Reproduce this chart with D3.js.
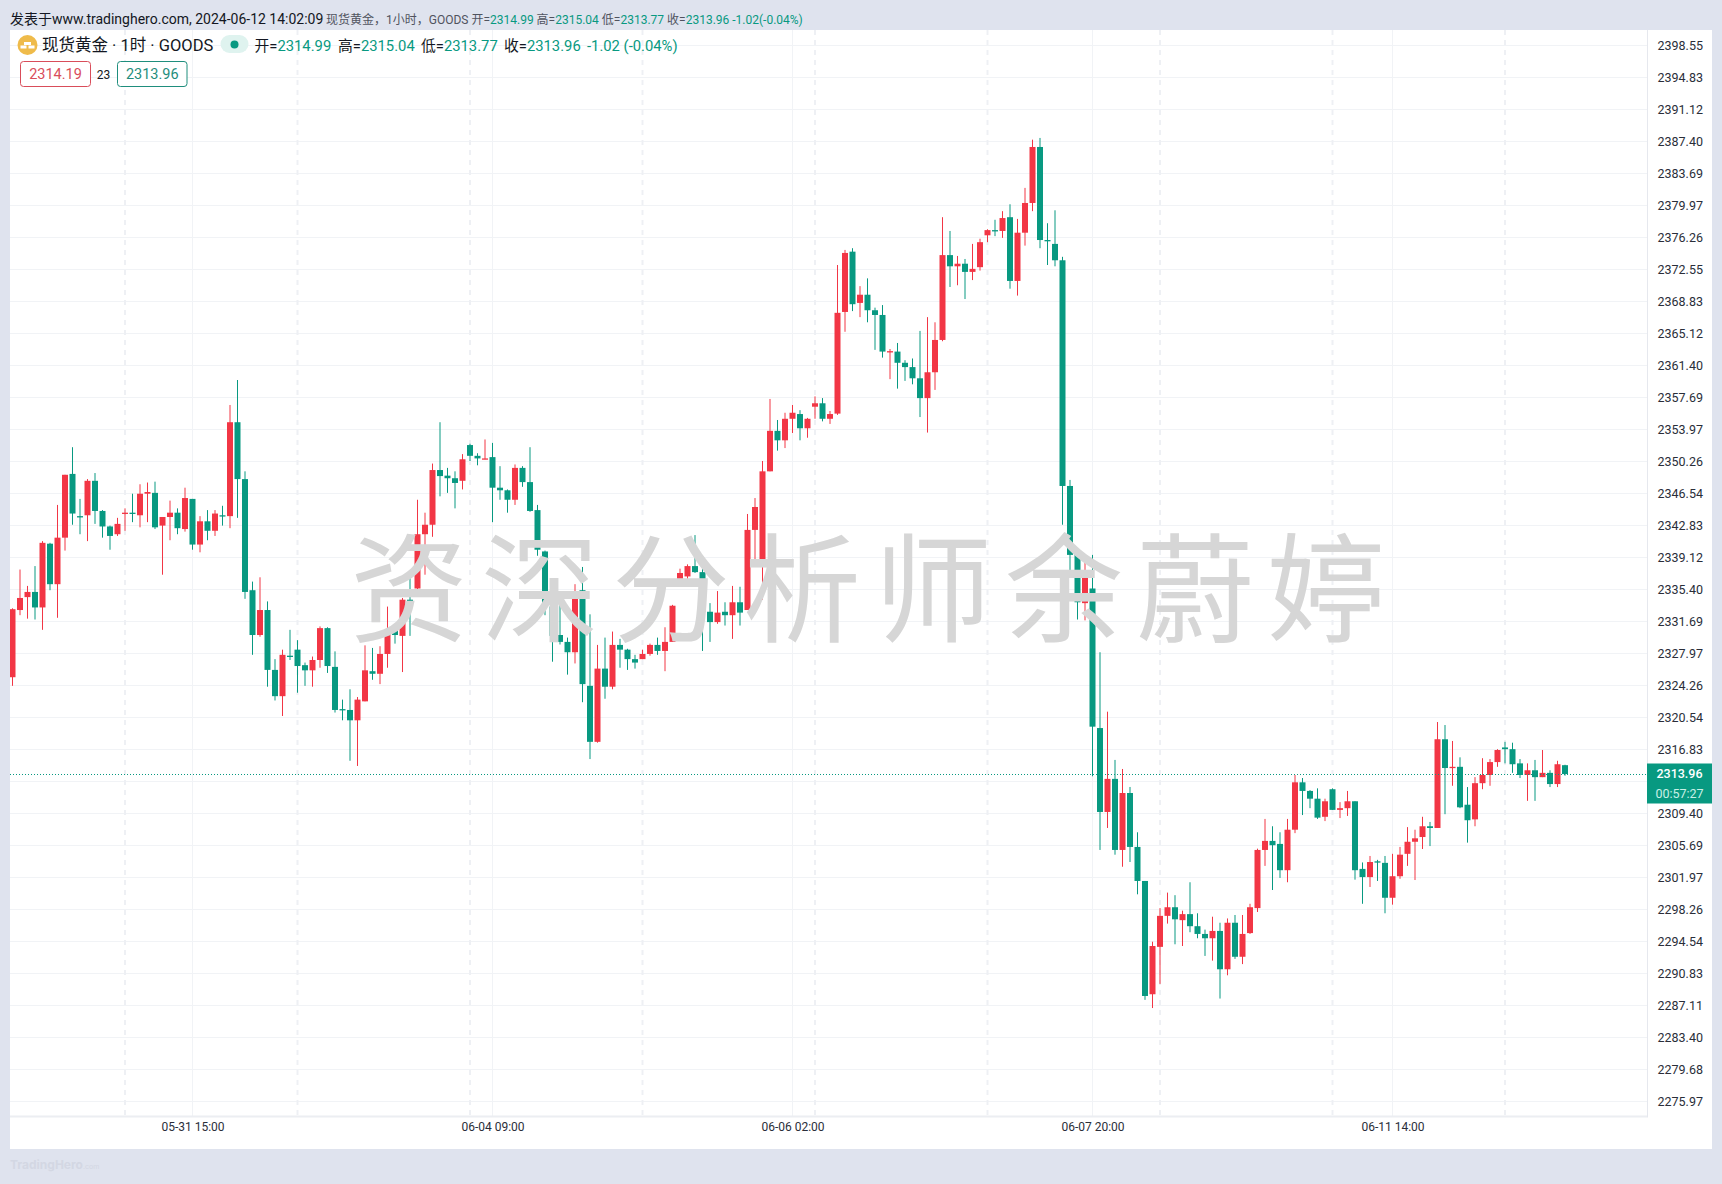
<!DOCTYPE html>
<html><head><meta charset="utf-8">
<script src="https://cdn.jsdelivr.net/npm/d3@7/dist/d3.min.js"></script>
<style>html,body{margin:0;padding:0;background:#dfe3ee;overflow:hidden}svg{display:block}text{font-family:Roboto,"Noto Sans CJK SC",sans-serif}</style>
</head><body><div id="chart"></div>
<script>
const opens=[2325.2,2333.0,2334.5,2335.1,2333.3,2340.7,2336.0,2341.4,2348.8,2343.9,
2344.0,2348.0,2344.5,2342.7,2341.8,2344.2,2344.3,2344.0,2346.5,2346.6,
2342.8,2343.8,2344.3,2342.4,2345.9,2340.6,2343.3,2342.2,2344.0,2343.9,
2354.8,2348.2,2335.3,2330.1,2333.0,2326.05,2323.0,2327.7,2328.4,2326.6,
2326.0,2327.2,2330.9,2326.4,2321.5,2321.4,2320.2,2322.4,2325.9,2325.6,
2327.9,2330.8,2330.0,2334.2,2335.5,2341.8,2342.9,2349.25,2348.6,2348.3,
2348.0,2352.15,2350.9,2350.5,2350.75,2347.2,2346.9,2345.8,2349.5,2347.85,
2344.6,2339.8,2333.4,2330.1,2329.3,2328.1,2335.3,2324.2,2317.7,2326.2,
2324.1,2328.95,2328.4,2327.3,2327.3,2327.9,2328.95,2328.25,2329.3,2335.9,
2336.9,2338.1,2337.4,2332.8,2331.6,2332.8,2332.4,2333.9,2333.0,2342.3,
2338.7,2349.1,2353.8,2352.7,2355.2,2355.75,2354.1,2356.6,2357.0,2355.2,
2355.8,2367.6,2374.6,2368.65,2369.6,2367.8,2367.25,2362.9,2363.0,2361.7,
2361.2,2359.9,2357.6,2360.6,2364.35,2374.2,2372.9,2373.2,2372.25,2372.8,
2376.5,2377.1,2377.0,2378.6,2371.2,2376.8,2380.25,2386.75,2375.95,2375.5,
2373.6,2347.4,2339.4,2333.8,2335.5,2319.3,2309.56,2313.4,2305.15,2311.76,
2305.5,2301.55,2288.4,2293.9,2297.5,2298.5,2297.0,2297.7,2296.3,2295.4,
2294.9,2295.75,2291.3,2296.7,2292.75,2295.5,2298.4,2305.15,2306.2,2305.85,
2302.8,2307.5,2313.0,2312.0,2311.1,2309.0,2312.2,2309.8,2310.0,2310.8,
2302.95,2302.0,2303.83,2303.65,2299.6,2302.1,2304.7,2306.1,2306.65,2307.9,
2307.7,2318.0,2314.66,2314.8,2310.4,2308.7,2312.9,2313.85,2315.35,2317.05,
2316.85,2315.2,2313.85,2314.4,2313.6,2314.1,2312.8,2314.99];
const highs=[2333.2,2337.7,2335.8,2338.1,2341.0,2340.8,2345.2,2348.7,2351.9,2345.9,
2348.2,2348.9,2344.6,2342.8,2343.7,2344.8,2346.5,2347.6,2347.8,2347.9,
2343.8,2345.7,2344.8,2347.2,2345.9,2343.9,2344.6,2344.6,2345.1,2356.8,
2359.7,2349.1,2336.3,2336.8,2334.0,2327.3,2328.4,2330.7,2329.5,2326.9,
2327.6,2331.1,2331.0,2328.2,2322.6,2323.8,2322.9,2328.9,2328.6,2328.8,
2333.4,2331.3,2334.4,2336.8,2345.8,2344.3,2350.0,2354.8,2349.5,2349.1,
2351.1,2352.3,2351.2,2352.8,2352.4,2349.7,2347.0,2349.9,2349.7,2351.9,
2345.2,2339.9,2334.3,2335.0,2329.8,2336.0,2338.0,2332.5,2328.95,2329.8,
2330.5,2329.65,2328.5,2327.8,2328.4,2329.1,2329.8,2331.0,2333.6,2337.8,
2338.3,2341.7,2338.6,2333.8,2335.2,2333.9,2335.8,2335.7,2344.15,2346.0,
2350.3,2357.5,2355.06,2355.9,2356.8,2356.2,2355.3,2357.8,2357.6,2356.1,
2373.05,2374.8,2375.0,2370.6,2371.5,2368.1,2368.4,2363.3,2364.0,2362.0,
2362.2,2365.4,2367.0,2366.4,2378.6,2377.0,2374.1,2373.75,2375.5,2376.1,
2377.2,2378.3,2379.3,2380.1,2378.4,2382.0,2387.6,2387.8,2377.9,2379.4,
2374.0,2348.1,2339.4,2339.4,2339.4,2328.1,2321.2,2315.6,2314.55,2312.46,
2307.2,2301.55,2294.5,2298.4,2300.2,2299.9,2298.1,2301.4,2297.8,2295.9,
2297.4,2296.7,2297.2,2297.6,2297.6,2298.9,2305.3,2308.75,2307.9,2307.2,
2308.75,2313.85,2313.5,2312.1,2312.3,2311.1,2312.3,2310.7,2312.0,2310.8,
2303.7,2304.45,2304.0,2304.45,2304.7,2305.5,2307.8,2307.5,2309.0,2308.4,
2320.0,2319.65,2317.8,2315.9,2312.45,2313.6,2315.8,2315.7,2316.85,2317.7,
2317.6,2315.7,2315.2,2315.6,2316.75,2314.4,2315.5,2315.04];
const lows=[2324.2,2332.4,2332.0,2331.9,2330.7,2335.3,2332.1,2339.9,2342.9,2341.8,
2341.0,2343.0,2341.4,2340.0,2341.6,2342.2,2343.2,2342.6,2343.2,2342.4,
2337.1,2341.1,2341.8,2342.1,2340.0,2339.7,2341.1,2341.6,2342.8,2342.5,
2343.7,2334.3,2327.8,2329.9,2324.1,2322.5,2320.7,2327.2,2323.4,2324.2,
2324.1,2326.3,2325.7,2321.1,2320.2,2315.5,2314.9,2322.4,2324.9,2324.4,
2326.3,2329.1,2325.8,2330.0,2335.3,2337.1,2341.5,2346.2,2346.6,2344.8,
2347.0,2350.3,2349.8,2350.5,2343.2,2345.8,2344.3,2345.2,2347.3,2344.4,
2339.3,2332.4,2327.0,2329.0,2325.5,2326.8,2322.3,2315.7,2317.6,2322.7,
2323.8,2326.3,2326.05,2326.2,2327.3,2327.7,2327.8,2325.9,2329.3,2335.8,
2335.9,2337.3,2328.25,2329.3,2331.4,2331.2,2329.65,2331.2,2333.0,2338.2,
2334.2,2349.1,2351.5,2351.8,2353.55,2352.7,2353.0,2355.2,2354.9,2354.6,
2355.65,2365.3,2367.7,2367.0,2366.4,2363.2,2362.3,2359.8,2358.7,2359.6,
2359.2,2355.4,2353.6,2358.55,2364.2,2370.5,2370.7,2369.1,2371.3,2372.4,
2375.7,2376.4,2376.2,2370.3,2369.5,2375.3,2379.3,2375.0,2373.05,2372.9,
2342.9,2337.5,2331.9,2331.8,2313.7,2305.15,2307.7,2304.6,2303.2,2303.75,
2300.0,2287.75,2286.8,2289.6,2296.6,2294.2,2294.0,2295.6,2294.9,2292.85,
2292.3,2287.9,2290.6,2292.5,2291.9,2295.4,2297.95,2303.3,2300.5,2301.9,
2301.4,2307.1,2309.2,2310.0,2308.75,2308.5,2309.8,2308.85,2309.1,2301.7,
2298.9,2300.85,2301.55,2297.8,2298.8,2301.8,2303.3,2301.66,2305.26,2305.6,
2307.7,2309.3,2312.6,2310.0,2306.0,2307.9,2312.2,2312.6,2314.8,2315.2,
2314.1,2313.5,2310.85,2310.85,2313.6,2312.45,2312.45,2313.77];
const closes=[2333.1,2334.4,2335.1,2333.3,2340.8,2336.0,2341.4,2348.7,2344.2,2343.8,
2348.0,2344.5,2342.7,2341.6,2343.0,2344.3,2344.2,2346.5,2346.7,2342.6,
2343.8,2344.3,2342.5,2346.0,2340.6,2343.3,2342.2,2344.2,2343.9,2354.8,
2348.2,2335.1,2330.1,2333.0,2326.05,2323.0,2327.8,2327.6,2326.5,2326.0,
2327.2,2330.9,2326.5,2321.4,2321.4,2320.2,2322.6,2326.0,2325.6,2327.9,
2330.7,2330.1,2334.2,2333.6,2341.8,2342.9,2349.25,2348.55,2348.3,2347.75,
2350.5,2350.9,2350.6,2350.6,2347.2,2346.9,2345.8,2349.5,2347.85,2344.5,
2340.0,2333.5,2330.0,2329.3,2328.1,2335.1,2324.4,2317.7,2326.2,2324.1,
2328.95,2328.4,2327.3,2326.9,2327.9,2328.95,2328.25,2329.3,2333.5,2337.3,
2338.1,2337.4,2332.8,2331.6,2332.7,2332.4,2333.9,2332.7,2342.3,2344.96,
2349.1,2353.8,2352.7,2355.2,2355.9,2354.1,2355.2,2357.0,2355.2,2355.75,
2367.5,2374.45,2368.5,2369.6,2367.8,2367.25,2363.0,2363.05,2361.7,2361.2,
2359.9,2357.6,2360.6,2364.35,2374.2,2372.9,2373.2,2372.25,2372.6,2375.7,
2377.1,2377.0,2378.5,2371.2,2376.8,2380.25,2386.75,2375.95,2375.8,2373.6,
2347.4,2339.4,2333.9,2336.9,2319.46,2309.56,2313.4,2305.15,2311.76,2305.5,
2301.55,2288.2,2294.0,2297.5,2298.5,2297.1,2297.7,2296.3,2295.4,2294.9,
2295.75,2291.3,2296.7,2292.75,2295.4,2298.5,2305.15,2306.2,2305.7,2302.8,
2307.5,2313.0,2312.0,2311.1,2308.9,2310.8,2309.8,2310.0,2310.8,2302.8,
2302.0,2303.75,2303.7,2299.6,2302.1,2304.6,2306.1,2306.5,2307.9,2307.7,
2318.0,2314.66,2314.8,2310.1,2308.6,2312.9,2313.85,2315.35,2316.75,2316.85,
2315.1,2313.85,2314.4,2313.6,2314.1,2312.8,2315.1,2313.96];
const priceTicks=[2398.55,2394.83,2391.12,2387.40,2383.69,2379.97,2376.26,2372.55,2368.83,2365.12,2361.40,2357.69,2353.97,2350.26,2346.54,2342.83,2339.12,2335.40,2331.69,2327.97,2324.26,2320.54,2316.83,2313.11,2309.40,2305.69,2301.97,2298.26,2294.54,2290.83,2287.11,2283.40,2279.68,2275.97];
const hiddenPriceTick=2313.11;
const timeTickIndex=[24,64,104,144,184];
const timeTickLabels=["05-31 15:00","06-04 09:00","06-06 02:00","06-07 20:00","06-11 14:00"];
const dashedLineIndex=[15,38,61,84,107,130,153,176,199];
const lastPrice=2313.96, countdown="00:57:27";
const watermarkChars=["资","深","分","析","师","余","蔚","婷"];
const line1Grey=[["现货黄金，1小时，GOODS 开=",0],["2314.99",1],[" 高=",0],["2315.04",1],[" 低=",0],["2313.77",1],[" 收=",0],["2313.96",1],[" -1.02(-0.04%)",1]];
const ohlcLabels=[["开=","2314.99"],["高=","2315.04"],["低=","2313.77"],["收=","2313.96"],["","-1.02 (-0.04%)"]];

const W=1722,H=1184,L=10,T=30,R=1712,B=1149,AX=1647,AY=1116.5;
const UP="#F23645",DN="#089981",GRID="#f1f3f6",TEAL="#089981";
const x=d3.scaleLinear().domain([0,207]).range([12.5,12.5+7.5*207]);
const y=d3.scaleLinear().domain([2275.97,2398.55]).range([1101.33,45.33]);
const svg=d3.select("#chart").append("svg").attr("width",W).attr("height",H);
svg.append("rect").attr("width",W).attr("height",H).attr("fill","#dfe3ee");
svg.append("rect").attr("x",L).attr("y",T).attr("width",R-L).attr("height",B-T).attr("fill","#fff");
svg.append("defs").append("clipPath").attr("id","plot").append("rect").attr("x",L).attr("y",T).attr("width",AX-L).attr("height",AY-T);
const plot=svg.append("g").attr("clip-path","url(#plot)");

plot.append("g").selectAll("line").data(priceTicks).join("line")
 .attr("x1",L).attr("x2",AX).attr("y1",d=>Math.round(y(d))+.5).attr("y2",d=>Math.round(y(d))+.5)
 .attr("stroke",GRID);
plot.append("g").selectAll("line").data(timeTickIndex).join("line")
 .attr("x1",d=>Math.floor(x(d))+.5).attr("x2",d=>Math.floor(x(d))+.5).attr("y1",T).attr("y2",AY)
 .attr("stroke",GRID);
plot.append("g").selectAll("line").data(dashedLineIndex).join("line")
 .attr("x1",d=>x(d)).attr("x2",d=>x(d)).attr("y1",T).attr("y2",AY)
 .attr("stroke","#eef0f4").attr("stroke-width",2).attr("stroke-dasharray","5 5");

const candles=opens.map((o,i)=>({i,o,h:highs[i],l:lows[i],c:closes[i]}));
const g=plot.append("g");
const col=d=>d.c>=d.o?UP:DN;
g.selectAll("line").data(candles).join("line")
 .attr("x1",d=>x(d.i)).attr("x2",d=>x(d.i)).attr("y1",d=>y(d.h)).attr("y2",d=>y(d.l))
 .attr("stroke",col).attr("stroke-width",1);
g.selectAll("rect").data(candles).join("rect")
 .attr("x",d=>x(d.i)-3).attr("width",6)
 .attr("y",d=>y(Math.max(d.o,d.c)))
 .attr("height",d=>Math.max(1.3,Math.abs(y(d.o)-y(d.c))))
 .attr("fill",col);

plot.append("line").attr("x1",L).attr("x2",AX).attr("y1",Math.floor(y(lastPrice))+.5).attr("y2",Math.floor(y(lastPrice))+.5)
 .attr("stroke",TEAL).attr("stroke-dasharray","1 2");

svg.append("g").selectAll("text").data(watermarkChars).join("text")
 .attr("x",(d,i)=>409+i*131).attr("y",581).attr("text-anchor","middle").attr("dominant-baseline","central")
 .attr("font-size",118).attr("fill","#d6d6d6").attr("font-weight",400)
 .style("font-family","'Noto Sans CJK SC'").text(d=>d);

svg.append("line").attr("x1",AX+.5).attr("x2",AX+.5).attr("y1",T).attr("y2",AY+1).attr("stroke","#e6e8ee");
svg.append("line").attr("x1",L).attr("x2",AX).attr("y1",AY).attr("y2",AY).attr("stroke","#eceef2").attr("stroke-width",2);

const yAxis=d3.axisRight(y).tickValues(priceTicks.filter(d=>d!==hiddenPriceTick)).tickSize(0).tickPadding(0).tickFormat(d3.format(".2f"));
const ya=svg.append("g").attr("transform",`translate(1657.5,0)`).call(yAxis);
ya.select(".domain").remove();
ya.selectAll("text").attr("font-size",12.5).attr("fill","#2a2e39").style("font-family","Roboto");

const xAxis=d3.axisBottom(d3.scaleOrdinal().domain(timeTickIndex).range(timeTickIndex.map(d=>x(d))))
 .tickValues(timeTickIndex).tickSize(0).tickPadding(0).tickFormat((d,i)=>timeTickLabels[i]);
const xa=svg.append("g").attr("transform",`translate(0,1122)`).call(xAxis);
xa.select(".domain").remove();
xa.selectAll("text").attr("font-size",12).attr("fill","#2a2e39").style("font-family","Roboto");

svg.append("rect").attr("x",AX).attr("y",763.5).attr("width",R-AX).attr("height",40).attr("fill",TEAL);
svg.append("text").attr("x",1679.5).attr("y",778).attr("text-anchor","middle").attr("font-size",12.5).attr("font-weight",500).attr("fill","#fff").text(d3.format(".2f")(lastPrice));
svg.append("text").attr("x",1679.5).attr("y",798).attr("text-anchor","middle").attr("font-size",12.5).attr("fill","#c9f0e6").text(countdown);

// header
const t1=svg.append("text").attr("x",10).attr("y",24);
t1.append("tspan").attr("font-size",14).attr("fill","#131722").text("发表于www.tradinghero.com, 2024-06-12 14:02:09");
const t1b=svg.append("text").attr("x",326).attr("y",24).attr("font-size",12);
t1b.selectAll("tspan").data(line1Grey).join("tspan").attr("fill",d=>d[1]?TEAL:"#50535e").text(d=>d[0]);

svg.append("circle").attr("cx",27.5).attr("cy",45).attr("r",10).attr("fill","#efbb4a");
svg.append("path").attr("d","M24 42h7v3h-7zM20.5 45.5h6v3h-6zM28.5 45.5h6v3h-6z").attr("fill","#fff");
svg.append("text").attr("x",42).attr("y",51).attr("font-size",16.5).attr("fill","#131722").text("现货黄金 · 1时 · GOODS");
svg.append("rect").attr("x",220.5).attr("y",35).attr("width",28).attr("height",18).attr("rx",9).attr("fill","#dff3ef");
svg.append("circle").attr("cx",234.5).attr("cy",44.5).attr("r",4).attr("fill",TEAL);
const ohlcX=[254.5,338,421,504,587];
const ol=svg.append("g").selectAll("text").data(ohlcLabels).join("text")
 .attr("x",(d,i)=>ohlcX[i]).attr("y",51).attr("font-size",14.8);
ol.append("tspan").attr("fill","#131722").text(d=>d[0]);
ol.append("tspan").attr("fill",TEAL).text(d=>d[1]);

const boxes=[{x:20,w:70,c:"#d94d5a",t:"2314.19"},{x:117,w:69.5,c:"#1f8e7d",t:"2313.96"}];
svg.append("g").selectAll("rect").data(boxes).join("rect").attr("x",d=>d.x+.5).attr("y",61.5).attr("width",d=>d.w).attr("height",25).attr("rx",3).attr("fill","#fff").attr("stroke",d=>d.c);
svg.append("g").selectAll("text").data(boxes).join("text").attr("x",d=>d.x+d.w/2+.5).attr("y",79).attr("text-anchor","middle").attr("font-size",14.5).attr("fill",d=>d.c).text(d=>d.t);
svg.append("text").attr("x",103.5).attr("y",79).attr("text-anchor","middle").attr("font-size",12).attr("fill","#131722").text("23");

const wm=svg.append("text").attr("x",10).attr("y",1169).attr("fill","#d3d7e3").attr("font-weight",700).attr("font-size",12).style("font-family","Inter");
wm.append("tspan").text("TradingHero");
wm.append("tspan").attr("font-size",7).attr("font-weight",400).text(".com");
</script></body></html>
